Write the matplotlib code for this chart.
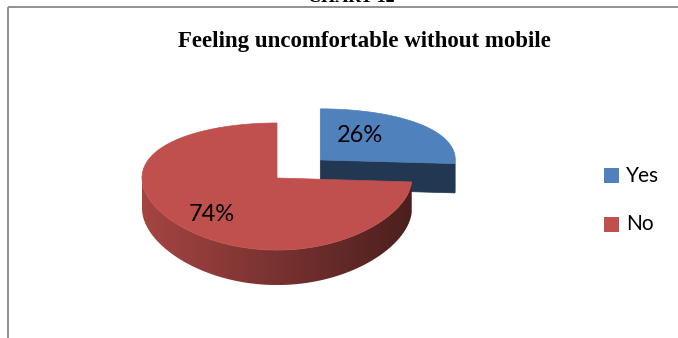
import numpy as np
import matplotlib.pyplot as plt
from matplotlib.colors import to_rgb
from matplotlib.patches import Polygon, Rectangle

# Survey answers
labels = ['Yes', 'No']
values = [26, 74]
top_colors = ['#4F81BD', '#C0504D']
explode = [0.44, 0.0]

title = 'Feeling uncomfortable without mobile'
chart_no = 'CHART 12'

# 3D pie geometry (pixel space)
cx, cy = 277, 178
rx, ry = 135, 62.4
k = 0.134        # perspective strength
depth = 30.3     # thickness of the pie
label_r = [0.53, 0.72]
label_dang = [-13, -5]


def project(u, v, h=0.0):
    s = 1.0 / (1.0 - k * v)
    return cx + rx * u, cy + (ry * v + depth * h) * s


def shade(color, u):
    # darker towards the right side of the pie
    f = 0.625 - 0.235 * np.asarray(u)
    rgb = np.array(to_rgb(color))
    return np.clip(rgb * f[..., None], 0, 1)


fig = plt.figure(figsize=(6.78, 3.38), dpi=100)
ax = fig.add_axes([0, 0, 1, 1])
ax.axis('off')

total = float(sum(values))
start = 0.0
for i, val in enumerate(values):
    a0 = start
    a1 = start + 360.0 * val / total
    start = a1
    mid = np.radians((a0 + a1) / 2)
    ou = explode[i] * np.sin(mid)
    ov = -explode[i] * np.cos(mid)
    col = top_colors[i]

    # cut faces that turn toward the viewer
    for ang, sign in ((a0, -1), (a1, 1)):
        t = np.radians(ang)
        if sign * np.sin(t) > 0.01:
            eu, ev = ou + np.sin(t), ov - np.cos(t)
            pts = [project(ou, ov, 0), project(eu, ev, 0),
                   project(eu, ev, 1), project(ou, ov, 1)]
            fc = tuple(shade(col, np.sin(t) / 2 + ou))
            ax.add_patch(Polygon(pts, closed=True, fc=fc, ec=fc, lw=0.5))

    # outer wall, front half only, filled with a horizontal gradient
    ts = np.radians(np.linspace(a0, a1, 400))
    front = ts[-np.cos(ts) > 0]
    if len(front) > 1:
        us, vs = ou + np.sin(front), ov - np.cos(front)
        upper = [project(u, v, 0) for u, v in zip(us, vs)]
        lower = [project(u, v, 1) for u, v in zip(us, vs)][::-1]
        wall = Polygon(upper + lower, closed=True, fc='none', ec='none')
        ax.add_patch(wall)
        xs = np.array([p[0] for p in upper + lower])
        ys = np.array([p[1] for p in upper + lower])
        gx = np.linspace(xs.min(), xs.max(), 256)
        grad = shade(col, (gx - cx) / rx - ou)[None, :, :]
        img = ax.imshow(grad, extent=(xs.min(), xs.max(), ys.max(), ys.min()),
                        aspect='auto', interpolation='bilinear', zorder=1)
        img.set_clip_path(wall)

    # top surface
    pts = [project(ou, ov)] + [project(ou + np.sin(t), ov - np.cos(t)) for t in ts]
    ax.add_patch(Polygon(pts, closed=True, fc=col, ec=col, lw=0.5, zorder=1))

    # percentage label
    la = mid + np.radians(label_dang[i])
    lx, ly = project(ou + label_r[i] * np.sin(la), ov - label_r[i] * np.cos(la))
    ax.text(lx, ly, f'{val}%', ha='center', va='center',
            fontsize=17, family='Lato', color='black', zorder=3)

# legend
for i, lab in enumerate(labels):
    y0 = 168 + 49 * i
    ax.add_patch(Rectangle((604, y0), 15, 15, fc=top_colors[i], ec='none'))
    ax.text(626, y0 + 7.5, lab, ha='left', va='center',
            fontsize=15, family='Lato', color='black')

# title and frame
ax.text(364, 42, title, ha='center', va='center', fontsize=16.5,
        family='Liberation Serif', weight='bold')
ax.text(351, 2, chart_no, ha='center', va='baseline', fontsize=13,
        family='Liberation Serif', weight='bold')
ax.plot([8, 8], [7, 338], color='#8a8a8a', lw=1.3, solid_capstyle='butt')
ax.plot([8, 678], [7, 7], color='#8a8a8a', lw=1.3, solid_capstyle='butt')

ax.set_xlim(0, 678)
ax.set_ylim(338, 0)

fig.savefig('out.png', dpi=100)
